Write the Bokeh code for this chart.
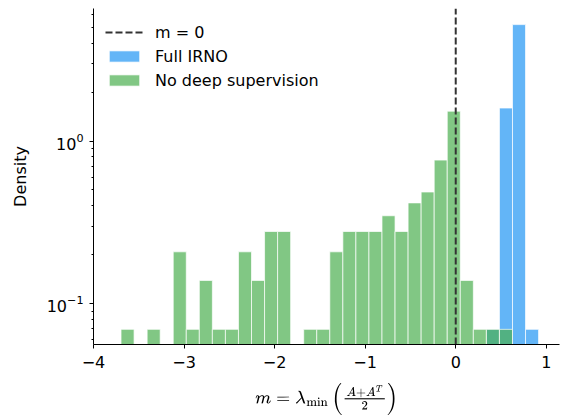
import numpy as np
from bokeh.plotting import figure
from bokeh.models import (Range1d, FixedTicker, Legend, LegendItem,
                          ColumnDataSource)
from bokeh.embed import file_html
from bokeh.resources import INLINE

# ---- data ----
bin_lo = -3.696
bin_hi = 0.915
n_bins = 32
full_irno_counts = [0] * 28 + [1, 23, 75, 1]
no_deep_counts = [1, 0, 1, 0, 3, 1, 2, 1, 1, 3, 2, 4, 4, 0, 1, 1,
                  3, 4, 4, 4, 5, 4, 6, 7, 11, 22, 2, 1, 1, 1, 0, 0]
threshold = 0.0
x_lim = (-4.0, 1.146)
y_lim = (0.056, 6.54)
x_ticks = [-4, -3, -2, -1, 0, 1]
y_major = [0.1, 1, 10]
y_minor = [0.06, 0.07, 0.08, 0.09, 0.2, 0.3, 0.4, 0.5, 0.6, 0.7, 0.8, 0.9,
           2, 3, 4, 5, 6]

edges = np.linspace(bin_lo, bin_hi, n_bins + 1)
width = edges[1] - edges[0]


def hist_source(counts):
    c = np.array(counts, dtype=float)
    dens = c / (c.sum() * width)
    m = c > 0
    return ColumnDataSource(dict(left=edges[:-1][m], right=edges[1:][m],
                                 top=dens[m], bottom=np.full(m.sum(), 1e-3)))


FONT = "DejaVu Sans"

p = figure(width=562, height=418, output_backend="svg", toolbar_location=None,
           y_axis_type="log", x_range=Range1d(*x_lim),
           y_range=Range1d(*y_lim),
           min_border_left=93, min_border_right=3, min_border_top=8,
           min_border_bottom=71)

p.grid.visible = False
p.outline_line_color = None
p.background_fill_color = "white"
p.border_fill_color = "white"

blue = p.quad(left="left", right="right", top="top", bottom="bottom",
              source=hist_source(full_irno_counts), fill_color="#2196F3",
              fill_alpha=0.7, line_color="white", line_alpha=0.7, line_width=1)
green = p.quad(left="left", right="right", top="top", bottom="bottom",
               source=hist_source(no_deep_counts), fill_color="#4CAF50",
               fill_alpha=0.7, line_color="white", line_alpha=0.7, line_width=1)

dash_r = p.segment(x0=[threshold], x1=[threshold], y0=[y_lim[0]], y1=[y_lim[1]],
                   line_color="#333333", line_width=2, line_dash="7 3")

legend = Legend(items=[LegendItem(label="m = 0", renderers=[dash_r]),
                       LegendItem(label="Full IRNO", renderers=[blue]),
                       LegendItem(label="No deep supervision", renderers=[green])],
                location=(12, 253), border_line_color=None,
                background_fill_alpha=0, margin=0, padding=0,
                glyph_width=38, glyph_height=14, label_height=22, spacing=2,
                label_standoff=12, label_text_font=FONT,
                label_text_font_size="16px", label_text_color="black")
p.add_layout(legend)

# axes
p.xaxis.ticker = FixedTicker(ticks=x_ticks)
p.xaxis.major_label_overrides = {t: (f"\u2212{abs(t)}" if t < 0 else str(t))
                                 for t in x_ticks}
p.yaxis.ticker = FixedTicker(ticks=y_major, minor_ticks=y_minor)

for ax in (p.xaxis[0], p.yaxis[0]):
    ax.axis_line_color = "black"
    ax.axis_line_width = 1
    ax.major_tick_line_color = "black"
    ax.minor_tick_line_color = "black"
    ax.major_tick_out = 4
    ax.major_tick_in = 0
    ax.minor_tick_out = 2
    ax.minor_tick_in = 0
    ax.major_label_text_font = FONT
    ax.major_label_text_font_size = "16px"
    ax.major_label_text_color = "black"
    ax.major_label_standoff = 6
    ax.axis_label_text_font = FONT
    ax.axis_label_text_font_size = "16px"
    ax.axis_label_text_font_style = "normal"
    ax.axis_label_text_color = "black"

p.xaxis.minor_tick_line_color = None
p.xaxis.major_label_standoff = 7
p.yaxis.axis_label = "Density"
p.yaxis.axis_label_standoff = 14
p.xaxis.axis_label = r"$$m = \lambda_{\min}\left(\tfrac{A + A^{T}}{2}\right)$$"
p.xaxis.axis_label_text_font_size = "14px"
p.xaxis.axis_label_standoff = 12

open("out.html", "w").write(file_html(p, INLINE))
